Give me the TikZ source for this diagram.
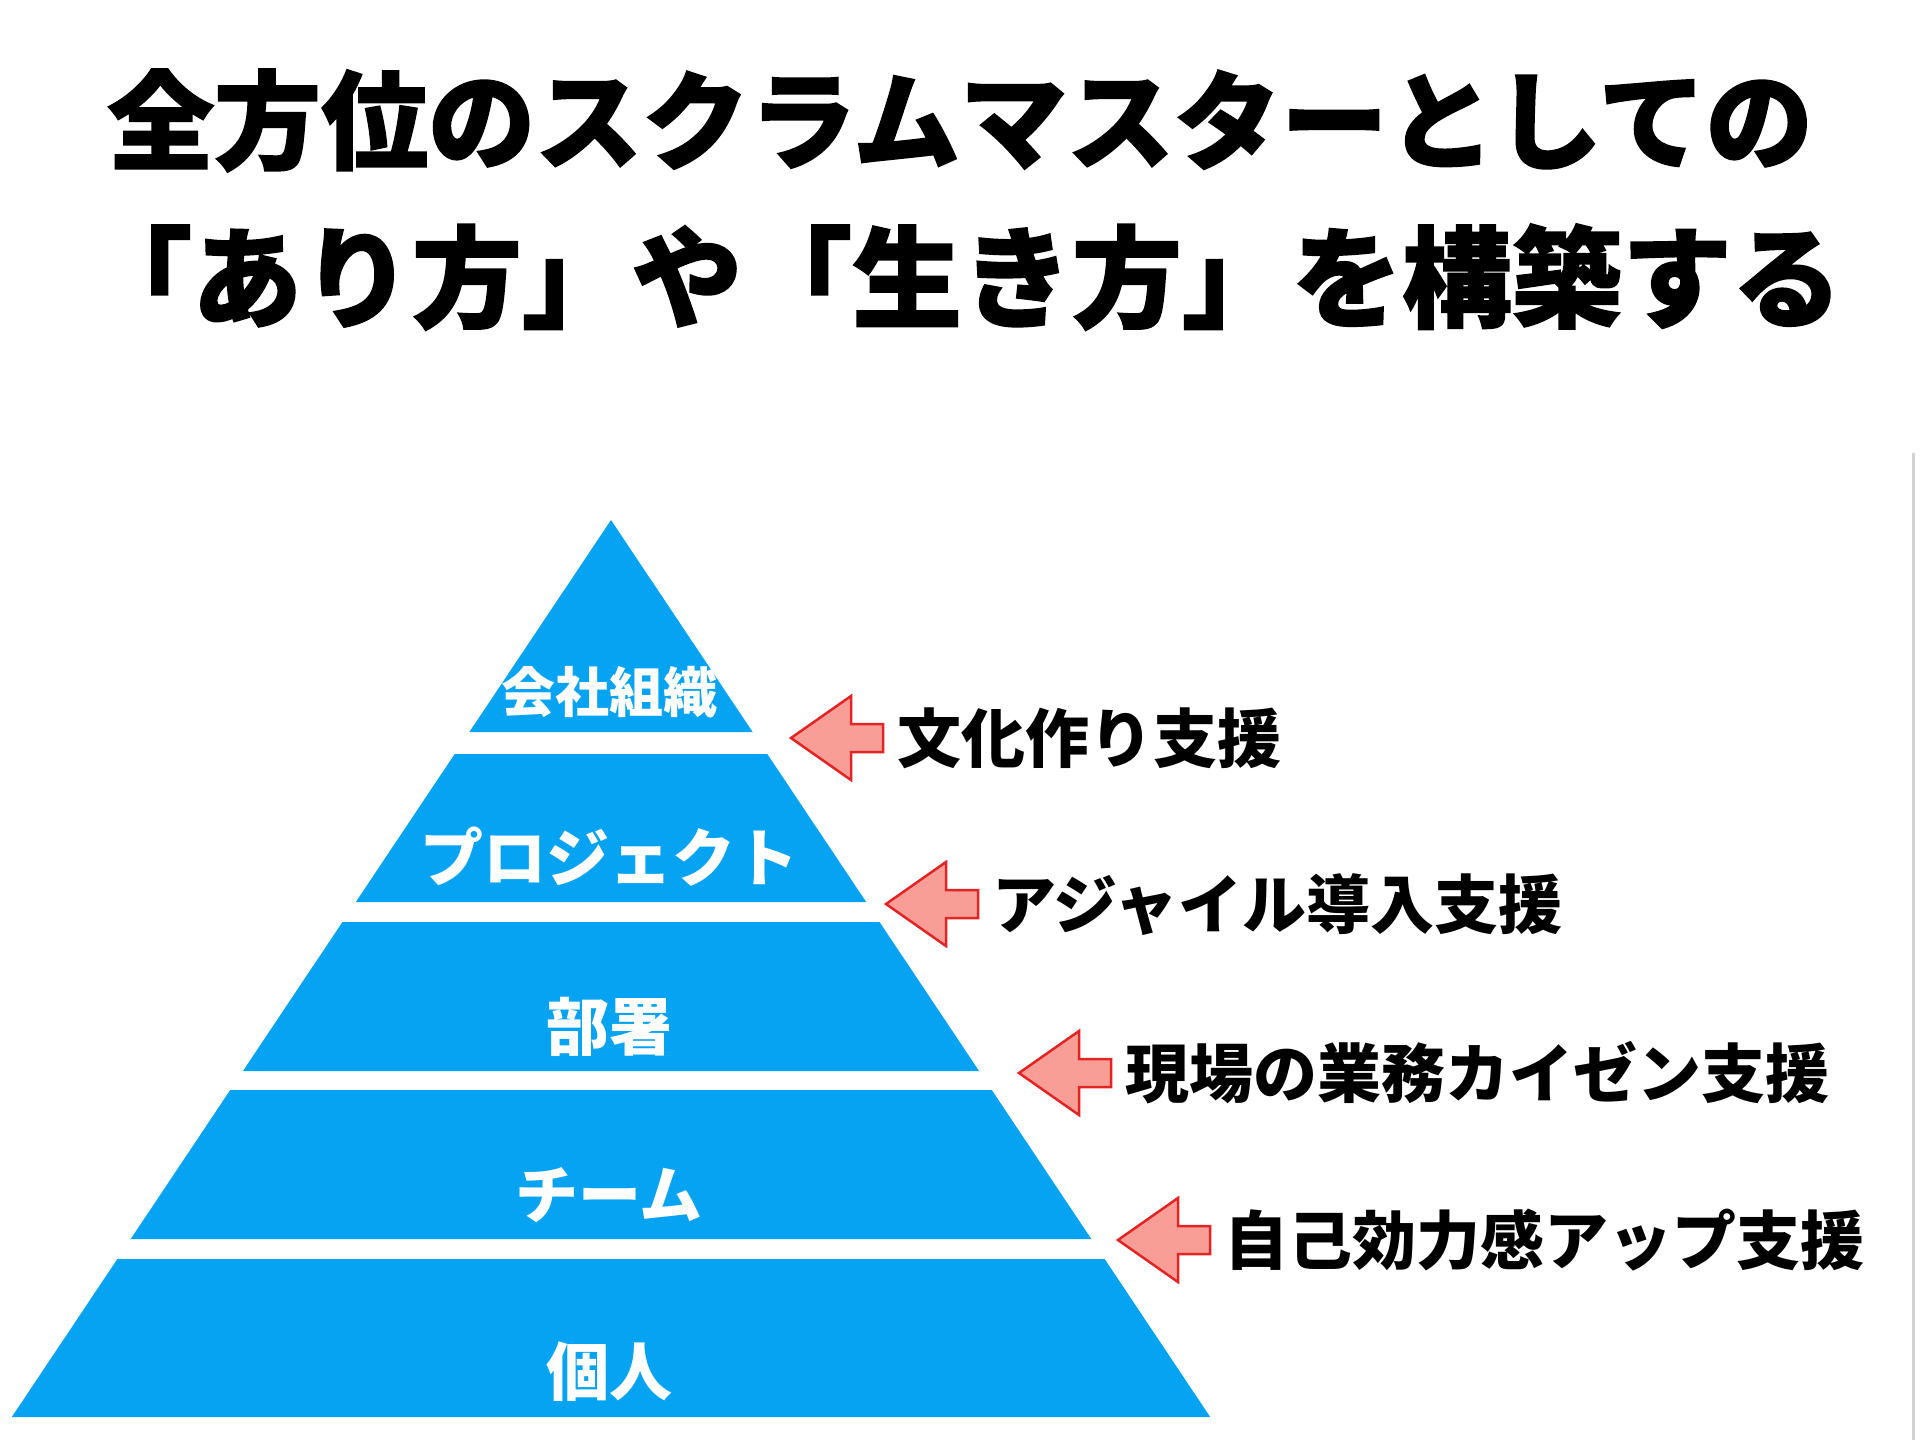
\documentclass[tikz,border=0pt]{standalone}
\usepackage{fontspec}
\setmainfont{Noto Sans CJK JP}
\newfontfamily\titlefont{Noto Sans CJK JP}[BoldFeatures={FakeBold=1.5}]
\usetikzlibrary{positioning}
\definecolor{pyblue}{RGB}{6,163,243}
\definecolor{arrowpink}{RGB}{248,158,150}
\definecolor{arrowred}{RGB}{226,36,36}
\definecolor{edgegray}{RGB}{210,210,210}

\begin{document}
\begin{tikzpicture}[x=1pt,y=-1pt,
  layer/.style={fill=pyblue},
  layerlabel/.style={text=white,anchor=base,inner sep=0,font=\fontsize{63}{63}\selectfont\bfseries},
  supportarrow/.style={fill=arrowpink,draw=arrowred,line width=2.5,line join=miter},
  supportlabel/.style={text=black,anchor=base west,inner sep=0,font=\fontsize{64}{64}\selectfont\bfseries},
  titleline/.style={anchor=base,inner sep=0,font=\titlefont\fontsize{107}{107}\selectfont\bfseries}]
  \useasboundingbox (0,0) rectangle (1920,1440);
  \fill[white] (0,0) rectangle (1920,1440);

  % title
  \node[titleline] (title1) at (960,161) {全方位のスクラムマスターとしての};
  \node[titleline,font=\titlefont\fontsize{110}{110}\selectfont\bfseries] (title2) at (962,319) {「あり方」や「生き方」を構築する};

  % pyramid, one band per layer
  \coordinate (apex) at (611,520);
  \foreach \top/\bot/\i in {520/732/1, 754/902/2, 922/1071/3, 1090/1239/4, 1259/1417/5}{
    \pgfmathsetmacro\wt{0.668*(\top-520)}
    \pgfmathsetmacro\wb{0.668*(\bot-520)}
    \fill[layer] (611-\wt,\top) -- (611+\wt,\top) -- (611+\wb,\bot) -- (611-\wb,\bot) -- cycle;
  }
  \node[layerlabel,font=\fontsize{54}{54}\selectfont\bfseries] (company) at (609,712) {会社組織};
  \node[layerlabel] (project) at (609,881) {プロジェクト};
  \node[layerlabel] (department) at (609,1050) {部署};
  \node[layerlabel] (team) at (609,1218) {チーム};
  \node[layerlabel] (person) at (609,1395) {個人};

  % support arrows
  \foreach \tx/\ty/\i/\txt in {791/738/1/文化作り支援, 886/904/2/アジャイル導入支援,
      1019/1073/3/現場の業務カイゼン支援, 1118/1240/4/自己効力感アップ支援}{
    \coordinate (tip\i) at (\tx,\ty);
    \draw[supportarrow] (tip\i) -- ++(60,-42) -- ++(0,28) -- ++(32,0) -- ++(0,28)
      -- ++(-32,0) -- ++(0,28) -- cycle;
    \node[supportlabel] (support\i) at ([xshift=106,yshift=-24]tip\i) {\txt};
  }

  \draw[edgegray,line width=3] (1913,453) -- (1913,1440);
\end{tikzpicture}
\end{document}
